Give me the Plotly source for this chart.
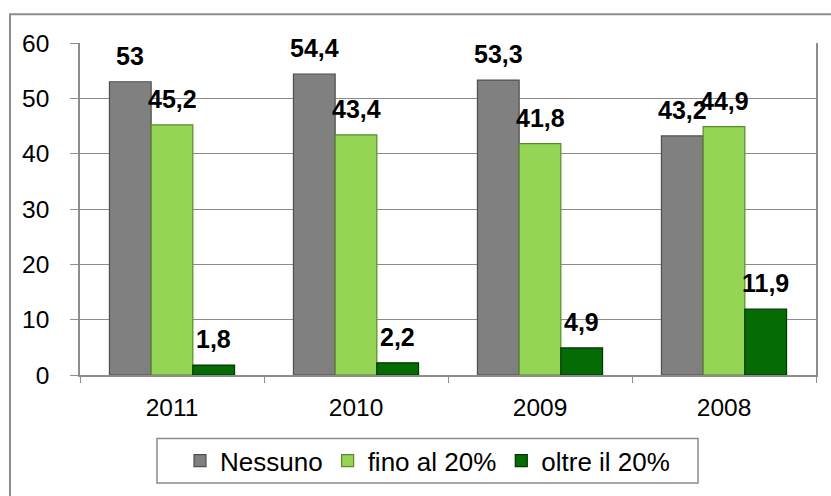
import plotly.graph_objects as go

# Data
years = ["2011", "2010", "2009", "2008"]
series_names = ["Nessuno", "fino al 20%", "oltre il 20%"]
nessuno = [53, 54.4, 53.3, 43.2]
fino_20 = [45.2, 43.4, 41.8, 44.9]
oltre_20 = [1.8, 2.2, 4.9, 11.9]
y_ticks = [0, 10, 20, 30, 40, 50, 60]

values = [nessuno, fino_20, oltre_20]
fills = ["#808080", "#95d555", "#056b05"]
edges = ["#4f4f4f", "#5a8a2a", "#013501"]

FONT = "Liberation Sans, Arial, sans-serif"
W, H = 831, 496
ML, MR, MT, MB = 80, 15, 43, 118
plot_w = W - ML - MR
plot_h = H - MT - MB
BARGAP = 0.32

fig = go.Figure()
for name, vals, fc, ec in zip(series_names, values, fills, edges):
    fig.add_trace(go.Bar(
        x=years, y=vals, name=name,
        marker=dict(color=fc, line=dict(color=ec, width=1.2)),
    ))

# value labels above each bar, decimal comma
cat_px = plot_w / len(years)
bar_px = cat_px * (1 - BARGAP) / len(series_names)
annotations = []
for i, vals in enumerate(values):
    for j, v in enumerate(vals):
        annotations.append(dict(
            x=j, y=v, xref="x", yref="y",
            text=f"{v:g}".replace(".", ","),
            showarrow=False, yanchor="bottom", xanchor="center",
            xshift=(i - 1) * bar_px, yshift=10,
            font=dict(family=FONT, size=25, color="#000000", weight="bold"),
        ))

def px_x(p):
    return (p - ML) / plot_w

def px_y(p):
    return (H - MB - p) / plot_h

shapes = [
    # outer chart frame
    dict(type="rect", xref="paper", yref="paper",
         x0=px_x(10), x1=px_x(W + 20), y0=px_y(H + 20), y1=px_y(14),
         line=dict(color="#8c8c8c", width=2), fillcolor="rgba(0,0,0,0)", layer="below"),
    # legend frame
    dict(type="rect", xref="paper", yref="paper",
         x0=px_x(157), x1=px_x(698), y0=px_y(487), y1=px_y(442),
         line=dict(color="#8c8c8c", width=1.5), fillcolor="rgba(0,0,0,0)"),
]

fig.update_layout(
    width=W, height=H,
    margin=dict(l=ML, r=MR, t=MT, b=MB, pad=0),
    paper_bgcolor="#ffffff", plot_bgcolor="#ffffff",
    barmode="group", bargap=BARGAP, bargroupgap=0,
    font=dict(family=FONT, color="#000000"),
    showlegend=True,
    legend=dict(
        orientation="h", x=px_x(427.5), xanchor="center",
        y=px_y(464.5), yanchor="middle",
        font=dict(family=FONT, size=26, color="#000000"),
        borderwidth=0, bgcolor="rgba(0,0,0,0)",
        itemwidth=30, traceorder="normal",
    ),
    annotations=annotations,
    shapes=shapes,
)

fig.update_xaxes(
    type="category", range=[-0.5, len(years) - 0.5], autorange=False,
    showline=True, linecolor="#8c8c8c", linewidth=1.5,
    ticks="outside", tickson="boundaries", ticklen=6, tickcolor="#8c8c8c",
    tickfont=dict(family=FONT, size=24.5, color="#000000"),
    tickangle=0,
    ticklabelstandoff=10,
    showgrid=False,
)
fig.update_yaxes(
    range=[0, 60], tickvals=y_ticks,
    showline=True, mirror=True, linecolor="#8c8c8c", linewidth=1.5,
    ticks="outside", ticklen=8, tickcolor="#8c8c8c",
    showgrid=True, gridcolor="#8c8c8c", gridwidth=1,
    zeroline=False,
    tickfont=dict(family=FONT, size=24.5, color="#000000"),
    ticklabelstandoff=16,
)

fig.write_html("out.html")
